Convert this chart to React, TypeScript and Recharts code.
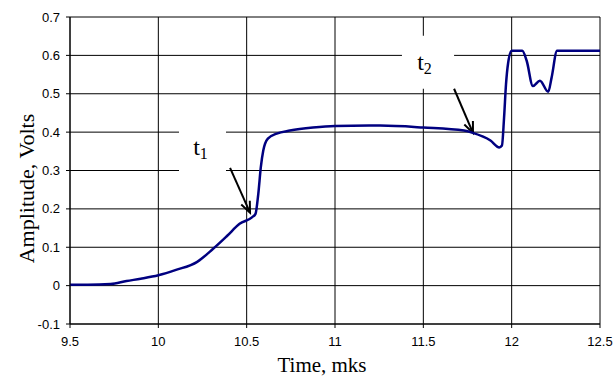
import React from 'react';
import { LineChart, Line, XAxis, YAxis, CartesianGrid, ReferenceArea, ReferenceLine } from 'recharts';

// time, mks
const times = [
  9.5, 9.6, 9.73, 9.82, 9.9, 10.0, 10.1, 10.22, 10.31, 10.39, 10.46, 10.53, 10.55, 10.566, 10.58, 10.594,
  10.62, 10.67, 10.745, 10.875, 11.0, 11.255, 11.5, 11.73, 11.78, 11.88, 11.93, 11.945, 11.957, 11.968,
  11.98, 12.0, 12.06, 12.085, 12.12, 12.16, 12.207, 12.226, 12.257, 12.5,
];
// amplitude, volts
const volts = [
  0.002, 0.002, 0.004, 0.012, 0.018, 0.027, 0.041, 0.062, 0.096, 0.13, 0.161, 0.178, 0.187, 0.24, 0.308, 0.352,
  0.383, 0.396, 0.404, 0.412, 0.416, 0.417, 0.412, 0.404, 0.398, 0.378, 0.36, 0.365, 0.438, 0.525,
  0.58, 0.612, 0.612, 0.586, 0.52, 0.534, 0.505, 0.542, 0.612, 0.612,
];

const xTicks = [9.5, 10, 10.5, 11, 11.5, 12, 12.5];
const yTicks = [-0.1, 0, 0.1, 0.2, 0.3, 0.4, 0.5, 0.6, 0.7];

const data = times.map((t, i) => ({ t, v: volts[i] }));

const fmt = (v: number) => String(Math.round(v * 10) / 10);

const Arrow = (props: any) => {
  const { x1, y1, x2, y2 } = props;
  const a = Math.atan2(y2 - y1, x2 - x1);
  const len = 12;
  const spread = 0.4;
  const p1 = [x2 - len * Math.cos(a - spread), y2 - len * Math.sin(a - spread)];
  const p2 = [x2 - len * Math.cos(a + spread), y2 - len * Math.sin(a + spread)];
  return (
    <g>
      <line x1={x1} y1={y1} x2={x2} y2={y2} stroke="#000" strokeWidth={2} />
      <polyline points={`${p1[0]},${p1[1]} ${x2},${y2} ${p2[0]},${p2[1]}`} fill="none" stroke="#000" strokeWidth={2} />
    </g>
  );
};

const tLabel = (sub: string, dx: number, dy: number) => (props: any) => {
  const { x, y, width } = props.viewBox;
  return (
    <text x={x + width / 2 + dx} y={y + dy} textAnchor="middle" fontFamily="'Liberation Serif', serif" fontSize={24} fill="#000">
      <tspan>t</tspan>
      <tspan fontSize={16} dy={4}>{sub}</tspan>
    </text>
  );
};

const yTitle = (props: any) => {
  const { x, y, height } = props.viewBox;
  const cx = x - 4;
  const cy = y + height / 2 + 18;
  return (
    <text x={cx} y={cy} transform={`rotate(-90 ${cx} ${cy})`} textAnchor="middle" dominantBaseline="central"
      fontFamily="'Liberation Serif', serif" fontSize={22} fill="#000">
      Amplitude, Volts
    </text>
  );
};

const xTitle = (props: any) => {
  const { x, y, width } = props.viewBox;
  return (
    <text x={x + width / 2 - 13} y={y + 48} textAnchor="middle" fontFamily="'Liberation Serif', serif" fontSize={21} fill="#000">
      Time, mks
    </text>
  );
};

export default function App() {
  const tick = { fontFamily: "'Liberation Sans', Arial, sans-serif", fontSize: 13, fill: '#000' };
  return (
    <div style={{ position: 'absolute', left: 0, top: 0, width: 616, height: 376, background: '#fff' }}>
      <LineChart width={616} height={376} data={data} margin={{ top: 17, right: 16, left: 30, bottom: 22 }}>
        <CartesianGrid stroke="#000" strokeWidth={1} />
        <XAxis
          dataKey="t"
          type="number"
          domain={[9.5, 12.5]}
          ticks={xTicks}
          tickFormatter={fmt}
          height={30}
          tick={tick}
          tickSize={4}
          tickMargin={9}
          stroke="#000"
          label={xTitle}
        />
        <YAxis
          type="number"
          domain={[-0.1, 0.7]}
          ticks={yTicks}
          tickFormatter={fmt}
          width={40}
          tick={tick}
          tickSize={4}
          tickMargin={6}
          stroke="#000"
          label={yTitle}
        />
        <ReferenceArea x1={10.117} x2={10.383} y1={0.27} y2={0.41} fill="#fff" fillOpacity={1} stroke="none" label={tLabel('1', -2, 27)} />
        <ReferenceArea x1={11.379} x2={11.674} y1={0.513} y2={0.651} fill="#fff" fillOpacity={1} stroke="none" label={tLabel('2', -3.5, 34)} />
        <ReferenceLine segment={[{ x: 10.406, y: 0.307 }, { x: 10.519, y: 0.19 }]} shape={Arrow} />
        <ReferenceLine segment={[{ x: 11.674, y: 0.513 }, { x: 11.781, y: 0.398 }]} shape={Arrow} />
        <Line dataKey="v" type="monotone" stroke="#000080" strokeWidth={2.5} dot={false} isAnimationActive={false} />
      </LineChart>
    </div>
  );
}
